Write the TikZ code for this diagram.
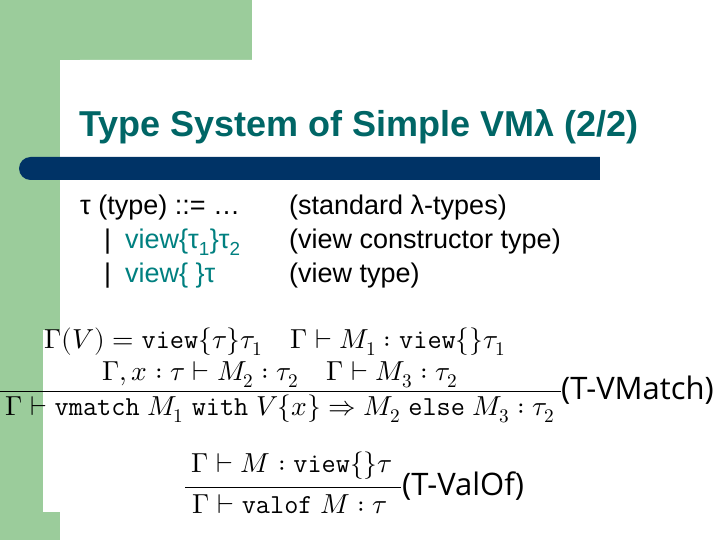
\documentclass[tikz,border=0pt]{standalone}
\usepackage{fontspec}
\setmainfont{Liberation Sans}
\newfontfamily\lblfont{Open Sans}
\usepackage{unicode-math}
\setmathfont{Latin Modern Math}
\definecolor{grn}{RGB}{155,204,155}
\definecolor{teal}{RGB}{0,102,102}
\definecolor{navy}{RGB}{0,51,102}
\definecolor{vteal}{RGB}{0,128,128}
\tikzset{
  body/.style={anchor=west,inner sep=0pt,font=\fontsize{27}{31}\selectfont},
  fm/.style={inner sep=0pt,font=\fontsize{27.5}{32}\selectfont},
  lbl/.style={anchor=west,inner sep=0pt,font=\lblfont\fontsize{31}{35}\selectfont}
}
\newcommand{\tv}[1]{\mathtt{#1}}
\begin{document}
\begin{tikzpicture}[x=1pt,y=-1pt]
\useasboundingbox (0,0) rectangle (720,540);
\fill[white] (0,0) rectangle (720,540);
\fill[grn] (0,0) rectangle (252,60);
\fill[grn] (0,0) rectangle (60,540);
\fill[white,rounded corners=20pt] (60,560) -- (60,60) -- (740,60) -- (740,560) -- cycle;
\fill[grn] (0,300) rectangle (43,540);
\fill[white] (43,330) rectangle (720,512);
\fill[navy,rounded corners=11.5pt] (19,157) rectangle (640,180);
\fill[navy] (580,157) rectangle (600,180);
\fill[white] (600,150) rectangle (720,190);
\node[anchor=west,inner sep=0pt,text=teal,font=\bfseries\fontsize{36}{40}\selectfont] (title) at (79,127) {Type System of Simple VMλ (2/2)};
\node[body] (a1) at (80,208) {τ (type) ::= …};
\node[body] (a2) at (104,242) {|\hspace{14pt}\textcolor{vteal}{view\{τ\textsubscript{1}\}τ\textsubscript{2}}};
\node[body] (a3) at (104,276) {|\hspace{14pt}\textcolor{vteal}{view\{ \}τ}};
\node[body] (b1) at (289,208) {(standard λ-types)};
\node[body] (b2) at (289,242) {(view constructor type)};
\node[body] (b3) at (289,276) {(view type)};
\node[fm] (p1) at (275,342) {$\Gamma(V)=\tv{view}\{\tau\}\tau_1\quad \Gamma\vdash M_1:\tv{view}\{\}\tau_1$};
\node[fm] (p2) at (280,375) {$\Gamma,x:\tau\vdash M_2:\tau_2\quad \Gamma\vdash M_3:\tau_2$};
\coordinate (l1) at (0,391); \coordinate (l2) at (561,391);
\draw[line width=0.8pt] (l1) -- (l2);
\node[fm] (c1) at (280,409) {$\Gamma\vdash\tv{vmatch}\ M_1\ \tv{with}\ V\{x\}\Rightarrow M_2\ \tv{else}\ M_3:\tau_2$};
\node[lbl] (r1) at (561,390) {(T-VMatch)};
\node[fm] (p3) at (292,466) {$\Gamma\vdash M:\tv{view}\{\}\tau$};
\coordinate (l3) at (185,487); \coordinate (l4) at (401,487);
\draw[line width=0.8pt] (l3) -- (l4);
\node[fm] (c2) at (290,504) {$\Gamma\vdash\tv{valof}\ M:\tau$};
\node[lbl] (r2) at (402,486) {(T-ValOf)};
\end{tikzpicture}
\end{document}
